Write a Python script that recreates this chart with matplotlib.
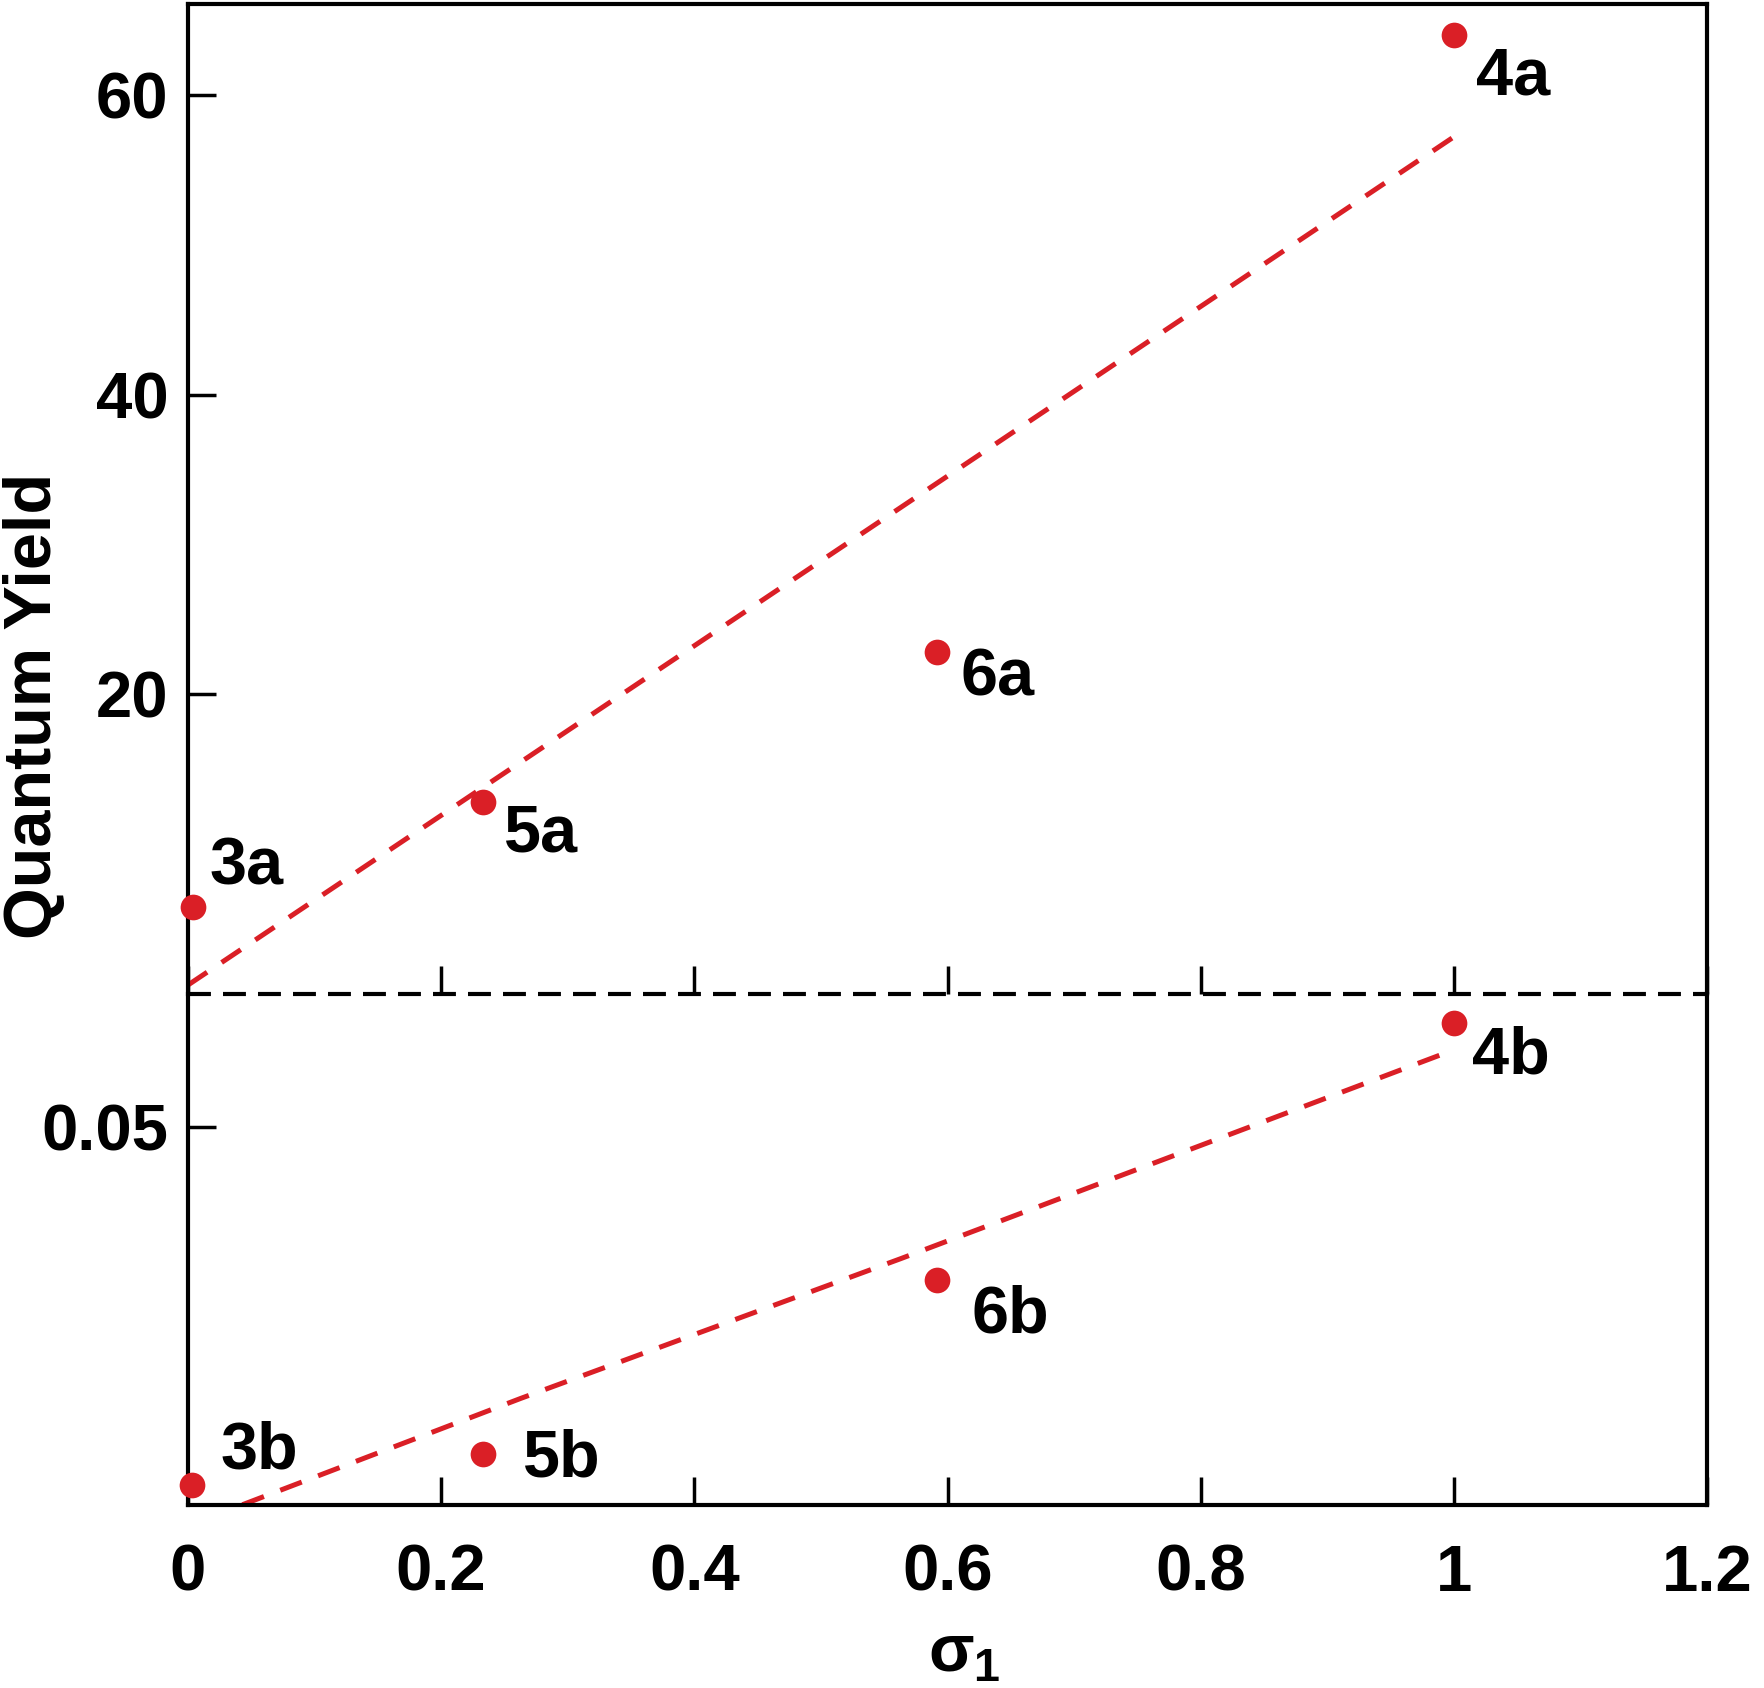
import matplotlib.pyplot as plt

plt.rcParams['font.family'] = ['Liberation Sans', 'DejaVu Sans']
plt.rcParams['font.weight'] = 'bold'
plt.rcParams['mathtext.fontset'] = 'custom'
plt.rcParams['mathtext.rm'] = 'Liberation Sans:bold'
plt.rcParams['mathtext.it'] = 'Liberation Sans:bold'
plt.rcParams['mathtext.bf'] = 'Liberation Sans:bold'

# "a" series (upper panel)
labels_a = ['3a', '5a', '6a', '4a']
sigma_a = [0.004, 0.233, 0.592, 1.0]
qy_a = [5.8, 12.8, 22.8, 64.0]

# "b" series (lower panel)
labels_b = ['3b', '5b', '6b', '4b']
sigma_b = [0.003, 0.233, 0.592, 1.0]
qy_b = [0.0231, 0.0254, 0.0385, 0.0578]

# dashed trend lines
fit_a_x = [0.0, 0.5, 1.0]
fit_a_y = [0.6, 28.9, 57.2]
fit_b_x = [0.043, 0.263, 0.563, 1.0]
fit_b_y = [0.0216, 0.0296, 0.0401, 0.0558]

xticks = [0, 0.2, 0.4, 0.6, 0.8, 1.0, 1.2]
xticklabels = ['0', '0.2', '0.4', '0.6', '0.8', '1', '1.2']
yticks_a = [20, 40, 60]
yticks_b = [0.05]

# label offsets in pixels (left edge, baseline) from each marker
offs_a = {'3a': (16, 23), '5a': (21, -49), '6a': (23, -43), '4a': (22, -60)}
offs_b = {'3b': (29, 16), '5b': (40, -22), '6b': (34, -53), '4b': (18, -50)}

RED = '#da1f26'
W, H = 1764, 1688
fig = plt.figure(figsize=(W / 100, H / 100), dpi=100)

left, right = 188 / W, 1707 / W
y_top, y_brk, y_bot = 1 - 3.5 / H, 1 - 994 / H, 1 - 1505 / H
ax2 = fig.add_axes([left, y_bot, right - left, y_brk - y_bot])
ax1 = fig.add_axes([left, y_brk, right - left, y_top - y_brk])
# upper panel on top, transparent, so the break line is not covered
ax1.set_zorder(2)
ax1.patch.set_visible(False)
ax2.set_zorder(1)

SPINE_W = 3.0
for ax in (ax1, ax2):
    for s in ax.spines.values():
        s.set_linewidth(SPINE_W)
    ax.set_xlim(0, 1.2)
    ax.set_xticks(xticks)
    ax.tick_params(direction='in', length=20, width=2.5, labelsize=47,
                   top=False, right=False)
    ax.tick_params(axis='x', pad=28)
    ax.tick_params(axis='y', pad=14)

# break between the two panels: dashed black line
ax1.spines['bottom'].set_visible(False)
ax2.spines['top'].set_visible(False)
ax1.axhline(0, color='black', lw=SPINE_W, dashes=(5.5, 2.9), clip_on=False,
            zorder=3)
ax1.set_xticklabels([])
ax2.set_xticklabels(xticklabels)

ax1.set_ylim(0, 66.1)
ax1.set_yticks(yticks_a)
ax2.set_ylim(0.02158, 0.06)
ax2.set_yticks(yticks_b)
ax2.set_yticklabels(['0.05'])

for ax, xs, ys, fx, fy, labs, offs in [
        (ax1, sigma_a, qy_a, fit_a_x, fit_a_y, labels_a, offs_a),
        (ax2, sigma_b, qy_b, fit_b_x, fit_b_y, labels_b, offs_b)]:
    ax.plot(fx, fy, color=RED, lw=3.6, dashes=(4.6, 3.5), zorder=2)
    ax.plot(xs, ys, 'o', color=RED, ms=18.5, mec='none', clip_on=False, zorder=5)
    for x, y, lab in zip(xs, ys, labs):
        ax.annotate(lab, (x, y), xytext=offs[lab], textcoords='offset pixels',
                    ha='left', va='baseline', fontsize=48, fontweight='bold')

fig.text(34 / W, 1 - 706 / H, 'Quantum Yield', rotation=90, ha='center',
         va='center', fontsize=48, fontweight='bold')
fig.text(964 / W, 1 - 1654 / H, r'$\sigma_1$', ha='center', va='center',
         fontsize=48)

fig.savefig('out.png', dpi=100)
